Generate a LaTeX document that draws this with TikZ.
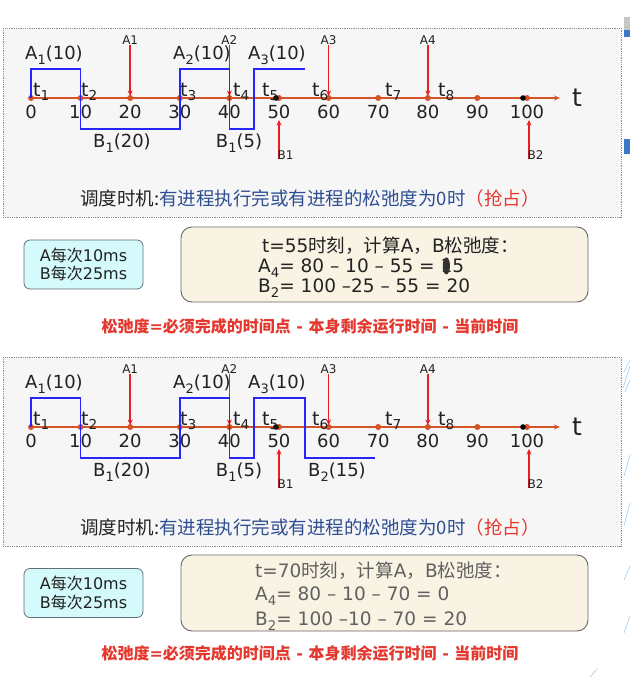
\documentclass[tikz,border=0pt]{standalone}
\usepackage{fontspec}
\setmainfont{DejaVu Sans}
\newfontfamily\cjk{Noto Sans CJK SC}
\usetikzlibrary{arrows.meta}
\definecolor{axisc}{RGB}{212,84,40}
\definecolor{redc}{RGB}{236,28,36}
\definecolor{bluec}{RGB}{38,38,250}
\definecolor{panelc}{RGB}{246,246,246}
\definecolor{borderc}{RGB}{140,140,140}
\definecolor{txtd}{RGB}{34,34,34}
\definecolor{txtg}{RGB}{96,96,96}
\definecolor{dblue}{RGB}{46,78,146}
\definecolor{txtred}{RGB}{228,56,46}
\definecolor{beigec}{RGB}{249,243,228}
\definecolor{cyanc}{RGB}{212,250,252}
\definecolor{decblue}{RGB}{60,120,195}
\definecolor{lightdec}{RGB}{160,205,240}
\newcommand\myfs[1]{\fontsize{#1}{#1}\selectfont}
\newcommand\sbs[1]{\raisebox{-0.3em}{\scalebox{0.72}{#1}}}
\newcommand\tsbs[1]{\raisebox{-0.2em}{\scalebox{0.72}{#1}}}
\tikzset{
  every node/.style={inner sep=0pt},
  panelbox/.style={draw=borderc, fill=panelc, densely dotted, line width=0.8pt},
  axisline/.style={draw=axisc, line width=1.4pt, -{Stealth[length=6pt,width=5pt]}},
  ticklab/.style={font=\myfs{18}, text=txtd},
  tlab/.style={font=\myfs{19}, text=txtd, anchor=base west},
  proclab/.style={font=\myfs{18}, text=txtd},
  smalllab/.style={font=\myfs{12}, text=txtd},
  rarrow/.style={draw=redc, line width=1.5pt, -{Stealth[length=5.5pt,width=5pt]}},
  sched/.style={draw=bluec, line width=1.6pt},
  cyanbox/.style={draw=gray!70!cyan!60!black, fill=cyanc, rounded corners=6pt, line width=0.8pt,
    minimum width=119pt, minimum height=49pt, align=center, font=\fontsize{16}{18.5}\selectfont, text=txtd},
  beigebox/.style={draw=gray!80!black, fill=beigec, rounded corners=11pt, line width=0.9pt,
    minimum width=407pt, minimum height=75pt},
  calcline/.style={anchor=base west, font=\myfs{18.5}},
  redline/.style={font=\bfseries\myfs{16}, text=txtred},
}
\newcommand\chartpanel[1]{%
  \draw[panelbox] (3,28) rectangle (621,217);
  \coordinate (#1o) at (31,98);
  \coordinate (#1e) at (560,98);
  \draw[axisline] (#1o) -- (#1e);
  \foreach \v in {0,10,...,100}{
    \fill[axisc] ({31+4.96*\v},98) circle (3);
    \node[ticklab] (#1n\v) at ({31+4.96*\v},112) {\v};
  }
  \fill[black] (276,98) circle (2.8);
  \fill[black] (523,98) circle (2.8);
  \foreach \i/\x in {1/33,2/81,3/180,4/233,5/262,6/312,7/385,8/438}{
    \node[tlab] (#1t\i) at (\x,96.5) {t\tsbs{\i}};
  }
  \node[font=\myfs{25}, text=txtd] (#1tt) at (577,98) {t};
  \foreach \k/\x in {1/130.2,2/229.4,3/328.6,4/427.8}{
    \node[smalllab] (#1Al\k) at (\x,40) {A\k};
    \coordinate (#1Ae\k) at (\x,96);
    \draw[rarrow] (#1Al\k.south) -- (#1Ae\k);
  }
  \foreach \k/\x in {1/279,2/529}{
    \coordinate (#1Bs\k) at (\x,159);
    \coordinate (#1Be\k) at (\x,120);
    \draw[rarrow] (#1Bs\k) -- (#1Be\k);
    \node[smalllab, anchor=west] (#1Bl\k) at (\x-1.5,155.5) {B\k};
  }
  \node[proclab] (#1pA1) at (54,55) {A\sbs{1}(10)};
  \node[proclab] (#1pA2) at (202,55) {A\sbs{2}(10)};
  \node[proclab] (#1pA3) at (277,55) {A\sbs{3}(10)};
  \node[proclab] (#1pB1) at (122,143) {B\sbs{1}(20)};
  \node[proclab] (#1pB2) at (239,143) {B\sbs{1}(5)};
  \node[font=\cjk\myfs{18.5}] (#1sched) at (310,198)
    {\textcolor{txtd}{调度时机:}\textcolor{dblue}{有进程执行完或有进程的松弛度为0时}\textcolor{txtred}{（抢占）}};
}
\begin{document}
\begin{tikzpicture}[x=1pt,y=-1pt]
\fill[white] (0,0) rectangle (630,677);
\useasboundingbox (0,0) rectangle (630,677);
% slide edge decorations
\fill[gray!45] (624,17) rectangle (630,30);
\fill[decblue] (624,30) rectangle (630,37);
\fill[decblue] (624,139) rectangle (630,154);
\begin{scope}[draw=lightdec, line width=0.6pt]
  \draw (624,372) -- (630,360);
  \draw (623,388) -- (630,366);
  \draw (625,392) -- (630,380);
  \draw (624,476) -- (630,455);
  \draw (624,526) -- (630,503);
  \draw (624,580) -- (630,566);
  \draw (624,633) -- (630,616);
  \draw (590,677) -- (597,669);
\end{scope}
% ---------- panel 1 ----------
\chartpanel{P}
\draw[sched] (31,98) -- (31,69) -- (80.6,69) -- (80.6,129) -- (179.8,129) -- (179.8,69)
  -- (229.4,69) -- (229.4,129) -- (254,129) -- (254,69) -- (305,69);
% info 1
\node[cyanbox] (cy1) at (83.5,264.5) {A{\cjk 每次}10ms\\B{\cjk 每次}25ms};
\node[beigebox] (bg1) at (384.5,264.5) {};
\node[calcline, text=txtd] (bg1l1) at (262,252) {t=55{\cjk 时刻，计算}A{\cjk ，}B{\cjk 松弛度：}};
\node[calcline, text=txtd] (bg1l2) at (258,272) {A\sbs{4}= 80 – 10 – 55 = 15};
\node[calcline, text=txtd] (bg1l3) at (258,292) {B\sbs{2}= 100 –25 – 55 = 20};
\fill[black!80] ([xshift=-18pt,yshift=2pt]bg1l2.east) ellipse [x radius=3.6pt, y radius=8.5pt];
\node[redline] (red1) at (310,326) {{\cjk 松弛度}={\cjk 必须完成的时间点} - {\cjk 本身剩余运行时间} - {\cjk 当前时间}};
% ---------- panel 2 ----------
\begin{scope}[yshift=-329pt]
\chartpanel{Q}
\draw[sched] (31,98) -- (31,69) -- (80.6,69) -- (80.6,129) -- (179.8,129) -- (179.8,69)
  -- (229.4,69) -- (229.4,129) -- (254,129) -- (254,69) -- (305,69) -- (305,129) -- (375,129);
\node[proclab] (QpB3) at (337,143) {B\sbs{2}(15)};
\end{scope}
% info 2
\node[cyanbox] (cy2) at (83.5,593) {A{\cjk 每次}10ms\\B{\cjk 每次}25ms};
\node[beigebox, minimum height=76pt] (bg2) at (384.5,593) {};
\node[calcline, text=txtg] (bg2l1) at (255,577) {t=70{\cjk 时刻，计算}A{\cjk ，}B{\cjk 松弛度：}};
\node[calcline, text=txtg] (bg2l2) at (255,600) {A\sbs{4}= 80 – 10 – 70 = 0};
\node[calcline, text=txtg] (bg2l3) at (255,625) {B\sbs{2}= 100 –10 – 70 = 20};
\node[redline] (red2) at (310,653) {{\cjk 松弛度}={\cjk 必须完成的时间点} - {\cjk 本身剩余运行时间} - {\cjk 当前时间}};
\end{tikzpicture}
\end{document}
